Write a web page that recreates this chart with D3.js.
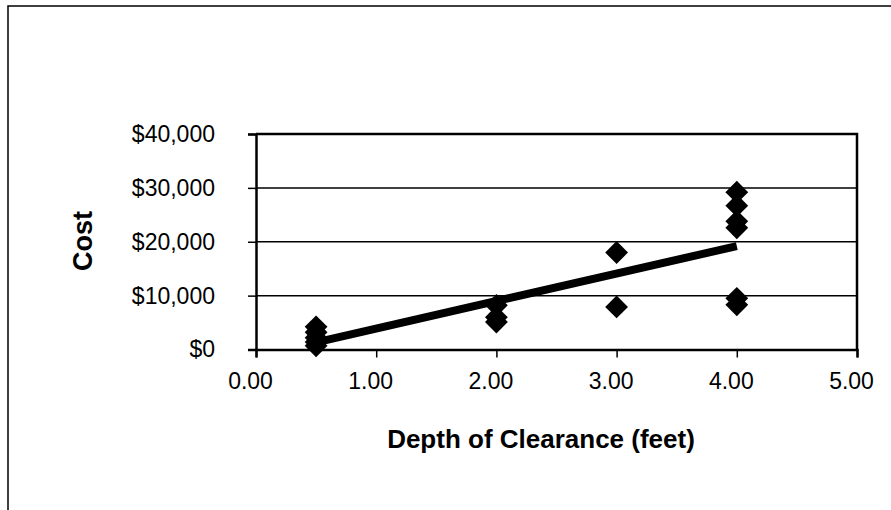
<!DOCTYPE html>
<html>
<head>
<meta charset="utf-8">
<script src="https://cdn.jsdelivr.net/npm/d3@7"></script>
<style>
  body { margin: 0; background: #fff; }
  svg { display: block; font-family: "Liberation Sans", Arial, sans-serif; }
</style>
</head>
<body>
<svg id="chart"></svg>
<script>
// Cost vs depth of clearance
var depth = [0.5, 0.5, 0.5, 0.5, 0.5, 2, 2, 2, 3, 3, 4, 4, 4, 4, 4, 4];
var cost = [4200, 3200, 2200, 1400, 700, 8200, 6000, 5100, 18000, 7900,
            29200, 26700, 23800, 22600, 9500, 8300];
var xTicks = [0, 1, 2, 3, 4, 5];
var yTicks = [0, 10000, 20000, 30000, 40000];

var width = 891, height = 510;
var plotL = 256, plotR = 857, plotT = 134, plotB = 349.5;

var svg = d3.select("#chart").attr("width", width).attr("height", height);

// outer frame (only top and left edges show in the picture)
svg.append("path")
    .attr("d", "M8,510 V6 H891")
    .attr("fill", "none").attr("stroke", "#000").attr("stroke-width", 1.5);

var x = d3.scaleLinear().domain([0, 5]).range([plotL, plotR]);
var y = d3.scaleLinear().domain([0, 40000]).range([plotB, plotT]);

// gridlines
svg.selectAll(".grid")
    .data(yTicks.slice(1, 4))
    .enter().append("line")
    .attr("x1", plotL).attr("x2", plotR)
    .attr("y1", d => y(d)).attr("y2", d => y(d))
    .attr("stroke", "#000").attr("stroke-width", 1.5);

// plot box top and right
svg.append("path")
    .attr("d", "M" + plotL + "," + plotT + " H" + plotR + " V" + plotB)
    .attr("fill", "none").attr("stroke", "#000").attr("stroke-width", 2.5);

// axes
var yAxis = d3.axisLeft(y).tickValues(yTicks).tickSize(8).tickPadding(33)
    .tickFormat(d => "$" + d3.format(",")(d));
var gy = svg.append("g").attr("transform", "translate(" + plotL + ",0)").call(yAxis);

var xAxis = d3.axisBottom(x).tickValues(xTicks).tickSize(8).tickPadding(15)
    .tickFormat(d3.format(".2f"));
var gx = svg.append("g").attr("transform", "translate(0," + plotB + ")").call(xAxis);

[gy, gx].forEach(function (g) {
    g.select(".domain").attr("stroke", "#000").attr("stroke-width", 2.5);
    g.selectAll(".tick line").attr("stroke", "#000").attr("stroke-width", 1.5);
    g.selectAll("text").attr("font-size", 23).attr("fill", "#000")
        .attr("font-family", "Liberation Sans, Arial, sans-serif");
});
gx.selectAll("text").attr("dx", -6);

// linear trend line
var mx = d3.mean(depth), my = d3.mean(cost);
var sxy = d3.sum(depth, (d, i) => (d - mx) * (cost[i] - my));
var sxx = d3.sum(depth, d => (d - mx) * (d - mx));
var slope = sxy / sxx, icpt = my - slope * mx;
var xr = d3.extent(depth);
svg.append("line")
    .attr("x1", x(xr[0])).attr("y1", y(icpt + slope * xr[0]))
    .attr("x2", x(xr[1])).attr("y2", y(icpt + slope * xr[1]))
    .attr("stroke", "#000").attr("stroke-width", 8);

// diamonds
var diamond = d3.symbol().type(d3.symbolSquare).size(260);
svg.selectAll(".dot")
    .data(depth)
    .enter().append("path")
    .attr("class", "dot")
    .attr("d", diamond)
    .attr("transform", (d, i) => "translate(" + x(d) + "," + y(cost[i]) + ") rotate(45)")
    .attr("fill", "#000");

// axis titles
svg.append("text")
    .attr("x", 541).attr("y", 448)
    .attr("text-anchor", "middle")
    .attr("font-size", 26).attr("font-weight", "bold")
    .text("Depth of Clearance (feet)");

svg.append("text")
    .attr("transform", "translate(92,241) rotate(-90)")
    .attr("text-anchor", "middle")
    .attr("font-size", 27).attr("font-weight", "bold")
    .text("Cost");
</script>
</body>
</html>
